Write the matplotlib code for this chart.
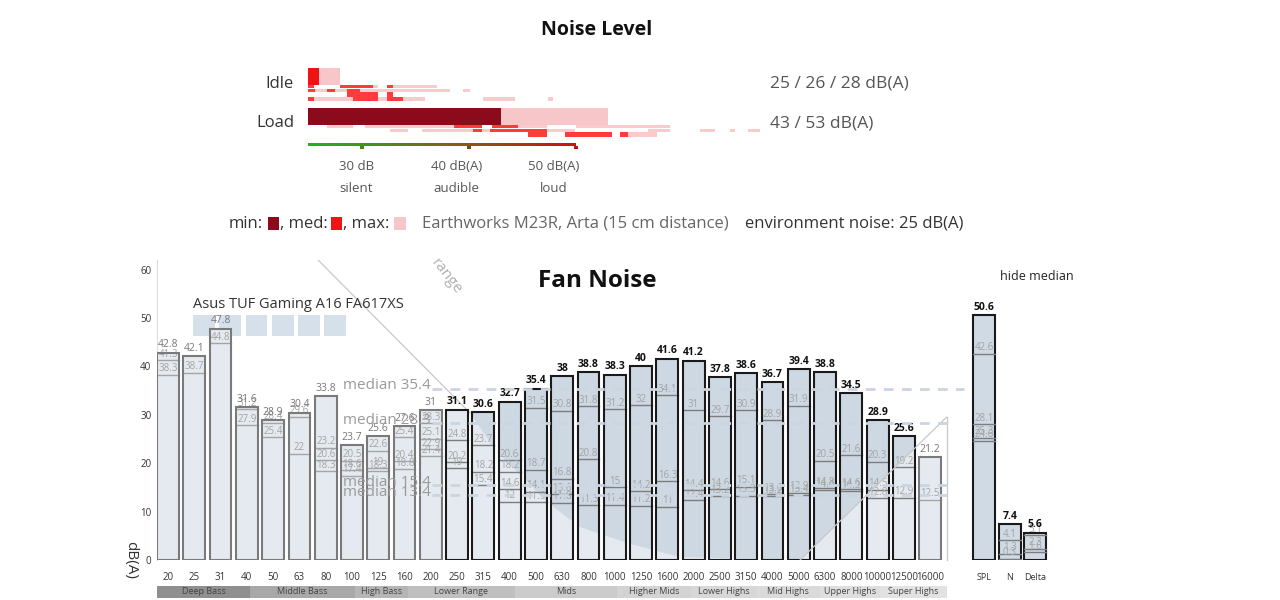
import matplotlib
matplotlib.use('Agg')
import matplotlib.pyplot as plt
from matplotlib.patches import Rectangle, Polygon
from matplotlib.colors import LinearSegmentedColormap
import numpy as np

plt.rcParams['font.family'] = ['Open Sans', 'DejaVu Sans']

# ---------------- data ----------------
freq_labels = ['20', '25', '31', '40', '50', '63', '80', '100', '125', '160', '200', '250', '315', '400',
               '500', '630', '800', '1000', '1250', '1600', '2000', '2500', '3150', '4000', '5000', '6300',
               '8000', '10000', '12500', '16000']
fan_values = [42.8, 42.1, 47.8, 31.6, 28.9, 30.4, 33.8, 23.7, 25.6, 27.6, 31, 31.1, 30.6, 32.7, 35.4, 38,
              38.8, 38.3, 40, 41.6, 41.2, 37.8, 38.6, 36.7, 39.4, 38.8, 34.5, 28.9, 25.6, 21.2]
fan_inner = [[41.3, 38.3], [38.7], [44.8], [31.2, 27.9], [28.4, 25.4], [29.6, 22], [23.2, 20.6, 18.3],
             [20.5, 18.6, 17.4], [22.6, 19, 18.3], [25.4, 20.4, 18.8], [28.3, 25.1, 22.9, 21.4],
             [24.8, 20.2, 19], [23.7, 18.2, 15.4], [20.6, 18.2, 14.6, 12], [31.5, 18.7, 14.1, 11.9],
             [30.8, 16.8, 13.6, 11.8], [31.8, 20.8, 11.3], [31.2, 15, 11.4], [32, 14.2, 11.2],
             [34.1, 16.3, 11], [31, 14.4, 12.4], [29.7, 14.6, 13.2], [30.9, 15.1, 13.3],
             [28.9, 13.6, 13.2], [31.9, 13.9, 13.4], [20.5, 14.8, 14.4], [21.6, 14.6, 14.2],
             [20.3, 14.5, 12.8], [19.2, 12.9], [12.5]]
fan_highlight = [0] * 11 + [1] * 18 + [0]
medians = [35.4, 28.3, 15.4, 13.4]
range_x = [5.71, 11.49, 12.44, 13.47, 14.46, 15.68, 17.47, 19.48, 24.05, 29.64]
range_y = [62, 30.4, 22.8, 17.2, 11.8, 6.8, 3.5, 0.6, 0, 29.6]

band_names = ['Deep Bass', 'Middle Bass', 'High Bass', 'Lower Range', 'Mids', 'Higher Mids',
              'Lower Highs', 'Mid Highs', 'Upper Highs', 'Super Highs']
band_edges = [-0.42, 3.12, 7.1, 9.13, 13.2, 17.1, 19.9, 22.4, 24.8, 27.1, 29.64]

summary_labels = ['SPL', 'N', 'Delta']
summary_values = [50.6, 7.4, 5.6]
summary_inner = [[42.6, 28.1, 25.3, 24.6], [4.1, 1.3, 0.3], [5.1, 2.3, 1.6]]

env_noise = 25
idle_values = [25, 26, 28]   # min, med, max
load_values = [43, 53]       # min, max
idle_text = '25 / 26 / 28 dB(A)'
load_text = '43 / 53 dB(A)'
# strips of comparable devices: (start dB, end dB, kind)
idle_strips = [
    [(28.0, 31.5, 'p'), (28.0, 31.1, 'r'), (32.4, 32.9, 'r'), (32.9, 37.1, 'p'), (25, 25.6, 'r')],
    [(25.65, 38.3, 'p'), (25, 25.65, 'r'), (26.8, 27.5, 'r'), (28.6, 29.9, 'r'), (39.5, 40.1, 'p')],
    [(28.6, 31.5, 'r'), (32.4, 32.9, 'r')],
    [(25, 35.9, 'p'), (25, 25.6, 'r'), (29.2, 31.5, 'r'), (32.4, 33.9, 'r'), (41.4, 44.3, 'p'),
     (47.4, 47.9, 'p')],
]
load_strips = [
    [(26.8, 29.2, 'p'), (30.3, 35.3, 'p'), (35.3, 38.6, 'p'), (38.6, 41.3, 'r'), (42.2, 44.6, 'r'),
     (44.6, 47.3, 'p'), (50.0, 52.8, 'p'), (52.8, 58.8, 'p')],
    [(32.7, 34.3, 'p'), (35.7, 42.0, 'p'), (40.4, 41.3, 'r'), (42.0, 47.3, 'r'), (47.3, 50.0, 'p'),
     (56.8, 58.8, 'p'), (61.6, 63.0, 'p'), (64.4, 64.9, 'p'), (66.1, 67.2, 'p')],
    [(45.6, 47.3, 'r'), (49.0, 53.4, 'r'), (54.2, 54.9, 'r'), (54.9, 57.6, 'p')],
]
scale_ticks = [30, 40, 50]
scale_labels = ['30 dB', '40 dB(A)', '50 dB(A)']
scale_words = ['silent', 'audible', 'loud']
scale_label_pos = [29.5, 38.9, 48.0]

# ---------------- figure ----------------
W, H = 1280, 600
fig = plt.figure(figsize=(W / 100, H / 100), dpi=100)


def px_axes(l, t, r, b):
    return fig.add_axes([l / W, 1 - b / H, (r - l) / W, (b - t) / H])


C_MIN, C_MED, C_MAX = '#8b0b1d', '#ee1414', '#f6c6c9'
C_STRIP = {'p': '#fbcaca', 'r': '#ff3b3b'}

# ---------- Noise level block ----------
fig.text(597 / W, 1 - 30 / H, 'Noise Level', ha='center', va='center', fontsize=14,
         fontweight='bold', color='#111')
nax = px_axes(300, 55, 920, 200)
nax.set_xlim(25 - 8 / 10.7, 25 + 612 / 10.7)
nax.set_ylim(200, 55)
nax.axis('off')

# idle
nax.barh(76.5, idle_values[2] - env_noise, left=env_noise, height=17, color=C_MAX, lw=0)
nax.barh(76.5, idle_values[1] - env_noise, left=env_noise, height=17, color=C_MED, lw=0)
nax.barh(76.5, idle_values[0] - env_noise, left=env_noise, height=17, color=C_MIN, lw=0)
# load
nax.barh(116.5, load_values[1] - env_noise, left=env_noise, height=17, color=C_MAX, lw=0)
nax.barh(116.5, load_values[0] - env_noise, left=env_noise, height=17, color=C_MIN, lw=0)

idle_rows = [(87, 3), (90.5, 3), (94.5, 5), (99.5, 4)]
for (yc, h), row in zip(idle_rows, idle_strips):
    for s, e, k in row:
        nax.barh(yc, e - s, left=s, height=h, color=C_STRIP[k], lw=0)
load_rows = [(127, 3), (130.5, 3), (134.5, 5)]
for (yc, h), row in zip(load_rows, load_strips):
    for s, e, k in row:
        nax.barh(yc, e - s, left=s, height=h, color=C_STRIP[k], lw=0)

cmap = LinearSegmentedColormap.from_list('gr', ['#1fb31f', '#7a6a0a', '#d01010'])
nax.imshow(np.linspace(0, 1, 256).reshape(1, -1), cmap=cmap, aspect='auto',
           extent=(env_noise, 50, 146.5, 143.5), zorder=3)
for t, c in zip(scale_ticks, ['#3c8c18', '#7a4a0a', '#c01010']):
    nax.add_patch(Rectangle((t - 0.1, 146), 0.35, 2.8, color=c, lw=0, zorder=3))
for p, l, w in zip(scale_label_pos, scale_labels, scale_words):
    nax.text(p, 166, l, ha='center', va='center', fontsize=9.5, color='#555')
    nax.text(p, 188, w, ha='center', va='center', fontsize=9.5, color='#555')

nax.text(25 + (294 - 308) / 10.7, 84, 'Idle', ha='right', va='center', fontsize=12, color='#333')
nax.text(25 + (294 - 308) / 10.7, 123, 'Load', ha='right', va='center', fontsize=12, color='#333')
nax.text(25 + (770 - 308) / 10.7, 84, idle_text, ha='left', va='center', fontsize=12.5, color='#555')
nax.text(25 + (770 - 308) / 10.7, 124, load_text, ha='left', va='center', fontsize=12.5, color='#555')

# legend line
lax = px_axes(0, 210, W, 240)
lax.set_xlim(0, W)
lax.set_ylim(240, 210)
lax.axis('off')
ly = 224
lax.text(229, ly, 'min:', ha='left', va='center', fontsize=12, color='#333')
lax.add_patch(Rectangle((268, 217), 11, 13, color=C_MIN, lw=0))
lax.text(280, ly, ', med:', ha='left', va='center', fontsize=12, color='#333')
lax.add_patch(Rectangle((331, 217), 11, 13, color=C_MED, lw=0))
lax.text(343, ly, ', max:', ha='left', va='center', fontsize=12, color='#333')
lax.add_patch(Rectangle((394, 217), 12, 13, color=C_MAX, lw=0))
lax.text(422, ly, 'Earthworks M23R, Arta (15 cm distance)', ha='left', va='center', fontsize=12,
         color='#666')
lax.text(745, ly, 'environment noise: 25 dB(A)', ha='left', va='center', fontsize=12, color='#333')

# ---------- Fan noise chart ----------
fig.text(597 / W, 1 - 281 / H, 'Fan Noise', ha='center', va='center', fontsize=17.5,
         fontweight='bold', color='#111')
ax = px_axes(157, 260, 947, 560)
x = np.arange(len(freq_labels))
ax.set_xlim(-0.419, 29.64)
ax.set_ylim(0, 62)
for s in ['top', 'right', 'bottom']:
    ax.spines[s].set_visible(False)
ax.spines['left'].set_color('#dcdcdc')
ax.set_yticks([0, 10, 20, 30, 40, 50, 60])
ax.set_yticklabels(['0', '10', '20', '30', '40', '50', '60'], fontsize=7, color='#333')
ax.set_xticks(x)
ax.set_xticklabels(freq_labels, fontsize=7, color='#333')
ax.tick_params(length=0)
ax.tick_params(axis='x', pad=9)
ax.tick_params(axis='y', pad=4)

bw = 0.83
bars = ax.bar(x, fan_values, width=bw, color='#e4eaf0', edgecolor='none', zorder=2)
poly_pts = list(zip(range_x, range_y)) + [(range_x[-1], 62)]
for b in bars:
    pg = Polygon(poly_pts, closed=True, facecolor=(158 / 255, 181 / 255, 200 / 255, 0.32),
                 edgecolor='none', zorder=2.5)
    ax.add_patch(pg)
    pg.set_clip_path(b)

edge_cols = ['#1a1a1a' if h else '#7a7a7a' for h in fan_highlight]
ax.bar(x, fan_values, width=bw, color='none', edgecolor=edge_cols, linewidth=1.5, zorder=4)

for i, vals in enumerate(fan_inner):
    lc = '#7d7d7d' if fan_highlight[i] else '#a5a5a5'
    for v in vals:
        ax.plot([i - bw / 2, i + bw / 2], [v, v], color=lc, lw=1, zorder=3)
        ax.text(i, v + 0.1, f'{v:g}', ha='center', va='bottom', fontsize=7, color='#a3a3a3',
                zorder=3.5)
for i, v in enumerate(fan_values):
    hl = fan_highlight[i]
    ax.text(i, v + 0.5, f'{v:g}', ha='center', va='bottom', fontsize=7.5,
            color='#111' if hl else '#777', fontweight='bold' if hl else 'normal', zorder=5)

# range outline
ax.plot(range_x[:2], range_y[:2], color='#c8c8c8', lw=0.9, zorder=1.5)
ax.plot(range_x[-2:], range_y[-2:], color='#c8c8c8', lw=0.9, zorder=5)
ax.plot([range_x[-1], range_x[-1]], [0, range_y[-1]], color='#c8c8c8', lw=0.9, zorder=5,
        clip_on=False)
ax.text(10.6, 58.5, 'range', rotation=-52, ha='center', va='center', fontsize=11, color='#b0b0b0')

# medians
for k, m in enumerate(medians):
    x_end = 30.3 if k == 0 else range_x[-1]
    ax.plot([10.05, x_end], [m, m], ls=(0, (3.5, 3)), color='#c9d5e0', lw=2, zorder=5,
            clip_on=False)
    ax.text(6.66, m + 0.6, f'median {m:g}', ha='left', va='center', fontsize=11, color='#9a9a9a',
            zorder=6)

# device legend
ax.text(0.95, 52.8, 'Asus TUF Gaming A16 FA617XS', ha='left', va='center', fontsize=10.5,
        color='#333')
for k in range(6):
    ax.add_patch(Rectangle((0.95 + k, 46.3), bw, 4.4, color='#d5e0ea', lw=0, zorder=1))

fig.text(131 / W, 1 - 560 / H, 'dB(A)', rotation=270, ha='center', va='center', fontsize=11,
         color='#333')

# frequency bands
bax = px_axes(157, 586, 947, 598)
bax.set_xlim(-0.419, 29.64)
bax.set_ylim(0, 1)
bax.axis('off')
band_cols = ['#8f8f8f', '#a8a8a8', '#b5b5b5', '#bfbfbf', '#cbcbcb', '#d3d3d3', '#d7d7d7', '#dadada',
             '#dedede', '#e2e2e2']
for k, name in enumerate(band_names):
    l, r = band_edges[k], band_edges[k + 1]
    bax.add_patch(Rectangle((l, 0), r - l, 1, color=band_cols[k], lw=0))
    bax.text((l + r) / 2, 0.5, name, ha='center', va='center', fontsize=6.5, color='#444')

# ---------- summary panel ----------
sax = px_axes(968, 260, 1055, 560)
sx = np.arange(len(summary_labels))
sax.set_xlim(-0.623, 2.763)
sax.set_ylim(0, 62)
for s in sax.spines.values():
    s.set_visible(False)
sax.set_yticks([])
sax.set_xticks(sx)
sax.set_xticklabels(summary_labels, fontsize=6.5, color='#333')
sax.tick_params(length=0, pad=9)
sbw = 0.856
sax.bar(sx, summary_values, width=sbw, color='#cfdae4', edgecolor='#1a1a1a', linewidth=1.5, zorder=2)
for i, vals in enumerate(summary_inner):
    for v in vals:
        sax.plot([i - sbw / 2, i + sbw / 2], [v, v], color='#7d7d7d', lw=1, zorder=3)
        sax.text(i, v + 0.1, f'{v:g}', ha='center', va='bottom', fontsize=7, color='#a3a3a3', zorder=3.5)
for i, v in enumerate(summary_values):
    sax.text(i, v + 0.5, f'{v:g}', ha='center', va='bottom', fontsize=7.5, color='#111',
             fontweight='bold', zorder=5)
fig.text(1000 / W, 1 - 276 / H, 'hide median', ha='left', va='center', fontsize=9, color='#222')

fig.savefig('out.png', dpi=100)
